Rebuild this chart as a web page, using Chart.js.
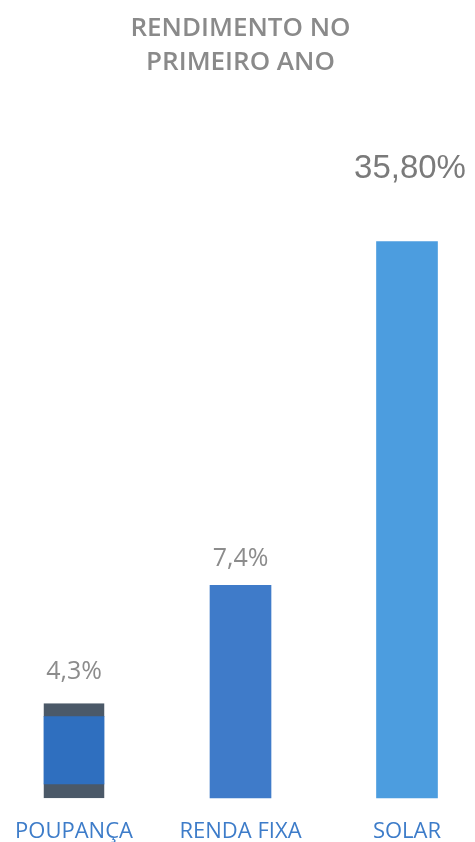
<!DOCTYPE html>
<html>
<head>
<meta charset="utf-8">
<script src="https://cdn.jsdelivr.net/npm/chart.js@4.4.1/dist/chart.umd.min.js"></script>
<style>
  html, body { margin: 0; padding: 0; background: #ffffff; }
  #wrap { width: 475px; height: 842px; position: relative; }
</style>
</head>
<body>
<div id="wrap"><canvas id="c"></canvas></div>
<script>
// ---- data ----
const categories = ['POUPANÇA', 'RENDA FIXA', 'SOLAR'];
const values = [4.3, 7.4, 35.8];
const valueLabels = ['4,3%', '7,4%', '35,80%'];
const titleLines = ['RENDIMENTO NO', 'PRIMEIRO ANO'];

// ---- styles ----
const barColors = ['#2f6fbf', '#3f7bc9', '#4c9ddf'];
const barBorderColors = ['#4b5968', 'rgba(0,0,0,0)', 'rgba(0,0,0,0)'];
const barBorderWidths = [{top: 13, bottom: 14, left: 0, right: 0}, 0, 0];
const labelGaps = [32, 26, 73];
const labelFonts = ['400 25px "Open Sans"', '400 25px "Open Sans"', '400 33px "Liberation Sans", Arial'];
const labelColors = ['#8c8c8c', '#8c8c8c', '#7a7a7a'];

const valueLabelPlugin = {
  id: 'valueLabels',
  afterDatasetsDraw(chart) {
    const ctx = chart.ctx;
    const meta = chart.getDatasetMeta(0);
    ctx.save();
    ctx.textAlign = 'center';
    ctx.textBaseline = 'middle';
    meta.data.forEach((bar, i) => {
      ctx.font = labelFonts[i];
      ctx.fillStyle = labelColors[i];
      ctx.fillText(valueLabels[i], bar.x + (i === 2 ? 3 : 0), bar.y - labelGaps[i]);
    });
    ctx.restore();
  }
};

new Chart(document.getElementById('c'), {
  type: 'bar',
  data: {
    labels: categories,
    datasets: [{
      data: values,
      backgroundColor: barColors,
      borderColor: barBorderColors,
      borderWidth: barBorderWidths,
      borderSkipped: false,
      barThickness: 61,
      clip: false
    }]
  },
  options: {
    responsive: true,
    maintainAspectRatio: false,
    animation: false,
    layout: { padding: { left: 74, right: 68, top: 0, bottom: 0 } },
    plugins: {
      legend: { display: false },
      tooltip: { enabled: false },
      title: {
        display: true,
        text: titleLines,
        color: '#8a8a8a',
        font: { family: '"Open Sans"', size: 26, weight: '600', lineHeight: 1.3 },
        padding: { top: 12, bottom: 48.4 }
      }
    },
    scales: {
      x: {
        offset: false,
        grid: { display: false },
        border: { display: false },
        ticks: {
          color: '#3d7cc9',
          font: { family: '"Open Sans"', size: 22 },
          padding: 13,
          maxRotation: 0,
          autoSkip: false
        },
        afterFit(scale) { scale.height = 44; }
      },
      y: {
        type: 'logarithmic',
        display: false,
        bounds: 'data',
        min: 2.79,
        max: 60.3
      }
    }
  },
  plugins: [valueLabelPlugin]
});
</script>
</body>
</html>
